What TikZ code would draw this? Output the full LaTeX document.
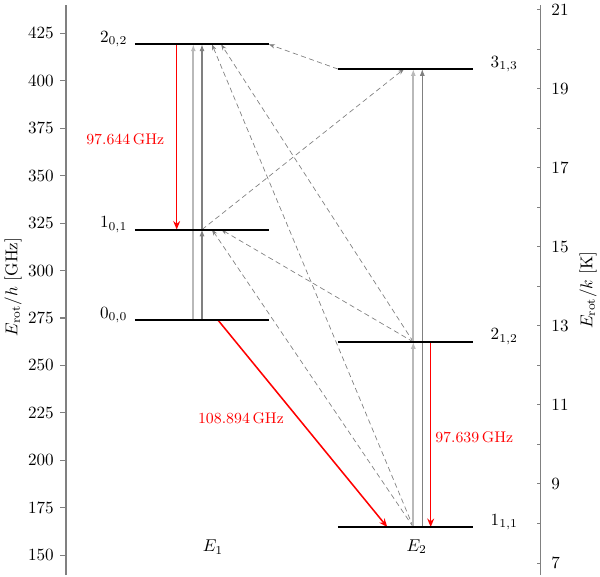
\documentclass[tikz,border=0pt]{standalone}
\usepackage{amsmath}
\usetikzlibrary{arrows.meta, positioning}

\begin{document}
\begin{tikzpicture}[x=0.02053cm, y=0.03894cm,
    lvl/.style={line width=1.2pt},
    axisline/.style={gray, line width=0.6pt},
    lvlL/.style={anchor=base east, yshift=1.2pt},
    lvlR/.style={anchor=base west, yshift=1.2pt},
    radline/.style={red, line width=0.9pt, -{Stealth[length=5pt,width=4pt]}},
    pumpA/.style={gray!55, line width=1pt, -{Latex[length=4pt,width=3pt]}},
    pumpB/.style={gray, line width=0.6pt, -{Latex[length=4pt,width=3pt]}},
    coll/.style={gray, line width=0.4pt, densely dashed, -{Stealth[length=3.5pt,width=2.5pt]}},
    freq/.style={red, font=\small}]
    \useasboundingbox (0,138.9) rectangle (600,442.6);

    % axes
    \draw[axisline] (66,139.5) -- (66,439.9);
    \foreach \v in {150,175,...,425}
        \draw[axisline] (66,\v) -- ++(-6,0) node[left, black] {\v};
    \draw[axisline] (540.7,139.5) -- (540.7,439.9);
    \foreach \k in {7,9,...,21}
        \draw[axisline] (540.7,{\k*20.8366}) -- ++(-4,0)
            node[anchor=west, black, xshift=5pt] {\k};
    \foreach \k in {8,10,...,20}
        \draw[axisline] (540.7,{\k*20.8366}) -- ++(-4,0);
    \node[rotate=90] (ylabL) at (13,291.3) {$E_\mathrm{rot}/h$ [GHz]};
    \node[rotate=90] (ylabR) at (588,289.7) {$E_\mathrm{rot}/k$ [K]};

    % levels
    \foreach \n/\xa/\e in {l000/135/273.7, l101/135/321.6, l202/135/419.2,
                           l111/338/164.8, l212/338/262.4, l313/338/406.2}
        \coordinate (\n) at (\xa,\e);
    \node[left=1pt of l000, lvlL] (t000) {$0_{0,0}$};
    \node[left=1pt of l101, lvlL] (t101) {$1_{0,1}$};
    \node[left=1pt of l202, lvlL] (t202) {$2_{0,2}$};
    \coordinate (l313e) at (472.7,406.2);
    \coordinate (l212e) at (472.7,262.4);
    \coordinate (l111e) at (472.7,164.8);
    \coordinate (l202e) at (269,419.2);
    \coordinate (l101e) at (269,321.6);
    \coordinate (l000e) at (269,273.7);
    \node[right=7pt of l313e, lvlR] (t313) {$3_{1,3}$};
    \node[right=7pt of l212e, lvlR] (t212) {$2_{1,2}$};
    \node[right=7pt of l111e, lvlR] (t111) {$1_{1,1}$};
    \node (sym1) at (213,154.2) {$E_1$};
    \node (sym2) at (416.7,154.4) {$E_2$};

    % x positions of the transitions
    \coordinate (xr1) at (176.7,0);
    \coordinate (xa) at (193.3,0);
    \coordinate (xb) at (202,0);
    \coordinate (xd1) at (212,0);
    \coordinate (xd2) at (221.2,0);
    \coordinate (xs) at (218.3,0);
    \coordinate (xt) at (387.3,0);
    \coordinate (xu) at (404,0);
    \coordinate (xc) at (413.3,0);
    \coordinate (xe) at (422.3,0);
    \coordinate (xr2) at (430.7,0);

    % collisional paths
    \draw[coll] (l313) -- (l202e);
    \draw[coll] (l101 -| xb) -- (l313 -| xu);
    \draw[coll] (l212 -| xc) -- (l101 -| xd2);
    \draw[coll] (l111 -| xc) -- (l101 -| xd1);
    \draw[coll] (l212 -| xc) -- (l202 -| xd2);
    \draw[coll] (l111 -| xc) -- (l202 -| xd1);

    % pumping
    \draw[pumpA] (l000 -| xa) -- (l202 -| xa);
    \draw[pumpB] (l000 -| xb) -- (l101 -| xb);
    \draw[pumpB] (l101 -| xb) -- (l202 -| xb);
    \draw[pumpA] (l111 -| xc) -- (l212 -| xc);
    \draw[pumpA] (l212 -| xc) -- (l313 -| xc);
    \draw[pumpB] (l111 -| xe) -- (l313 -| xe);

    % maser lines
    \draw[radline] (l202 -| xr1) -- (l101 -| xr1);
    \draw[radline] (l000 -| xs) -- (l111 -| xt);
    \draw[radline] (l212 -| xr2) -- (l111 -| xr2);
    \node[freq] (f1) at (125.3,369.1) {$97.644\,\mathrm{GHz}$};
    \node[freq] (f2) at (241,222.4) {$108.894\,\mathrm{GHz}$};
    \node[freq] (f3) at (474.3,212.4) {$97.639\,\mathrm{GHz}$};

    \foreach \n in {l000,l101,l202,l111,l212,l313}
        \draw[lvl] (\n) -- (\n e);
\end{tikzpicture}
\end{document}
